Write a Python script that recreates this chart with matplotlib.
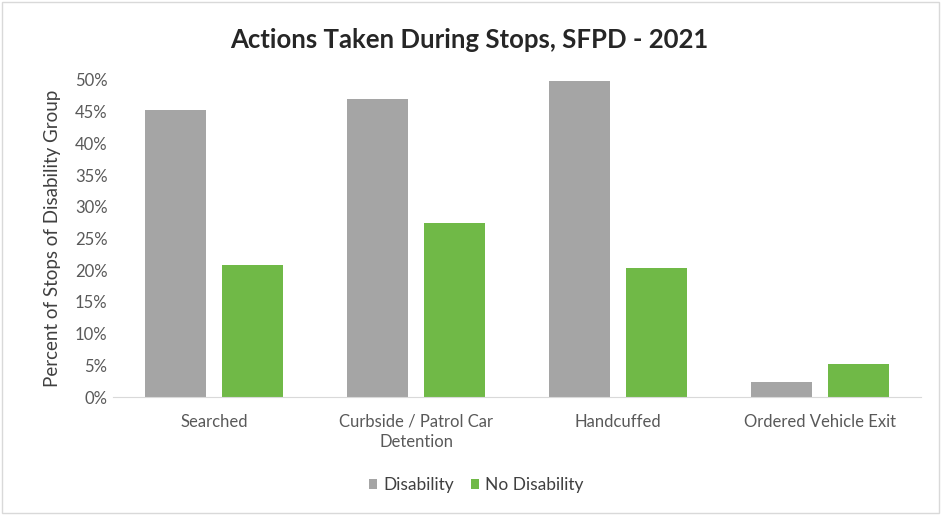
import matplotlib.pyplot as plt
import matplotlib.patches as mpatches
import numpy as np

# Share of stops by disability group for each action taken
categories = ['Searched', 'Curbside / Patrol Car\nDetention', 'Handcuffed', 'Ordered Vehicle Exit']
disability = [45.3, 47.0, 49.9, 2.4]
no_disability = [20.8, 27.5, 20.3, 5.2]

GRAY = '#a5a5a5'
GREEN = '#70b947'
TEXT = '#595959'

plt.rcParams['font.family'] = ['Lato', 'DejaVu Sans']

fig = plt.figure(figsize=(9.43, 5.16), dpi=100)
ax = fig.add_axes([0.1198, 0.2306, 0.857, 0.6144])

x = np.arange(len(categories))
width = 0.30
offset = 0.19
ax.bar(x - offset, disability, width, color=GRAY, label='Disability')
ax.bar(x + offset, no_disability, width, color=GREEN, label='No Disability')

ax.set_xlim(-0.5, len(categories) - 0.5)
ax.set_ylim(0, 50)
ax.set_yticks(np.arange(0, 51, 5))
ax.set_yticklabels([f'{v}%' for v in range(0, 51, 5)])
ax.set_xticks(x)
ax.set_xticklabels(categories, linespacing=1.35)
ax.tick_params(axis='both', length=0, labelsize=12, colors=TEXT)
ax.tick_params(axis='x', pad=12)
ax.tick_params(axis='y', pad=4)

for side in ['top', 'right', 'left']:
    ax.spines[side].set_visible(False)
ax.spines['bottom'].set_color('#d9d9d9')

ax.set_ylabel('Percent of Stops of Disability Group', fontsize=13.5, color='#404040', labelpad=10)
fig.text(0.498, 0.922, 'Actions Taken During Stops, SFPD - 2021', ha='center', va='center',
         fontsize=18.5, fontweight='bold', color='#262626')

fig.legend(loc='center', bbox_to_anchor=(0.505, 0.06), ncol=2, frameon=False, fontsize=12.5,
           handlelength=0.45, handleheight=0.45, handletextpad=0.35, columnspacing=1.0,
           labelcolor='#404040')

# light border round the chart area
fig.patches.append(mpatches.Rectangle((0.002, 0.006), 0.994, 0.99, transform=fig.transFigure,
                                      fill=False, edgecolor='#d9d9d9', linewidth=1))

fig.savefig('out.png', dpi=100)
